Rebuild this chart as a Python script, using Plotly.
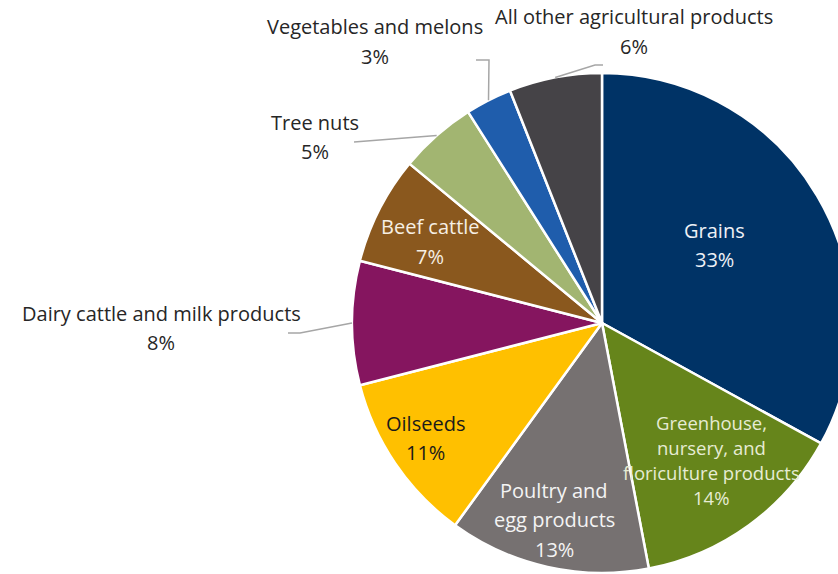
import numpy as np
import plotly.graph_objects as go

# Share of agricultural output by commodity group (percent)
categories = [
    "Grains",
    "Greenhouse, nursery, and floriculture products",
    "Poultry and egg products",
    "Oilseeds",
    "Dairy cattle and milk products",
    "Beef cattle",
    "Tree nuts",
    "Vegetables and melons",
    "All other agricultural products",
]
shares = [33, 14, 13, 11, 8, 7, 5, 3, 6]

# Line breaks used for each label
label_lines = {
    "Grains": ["Grains"],
    "Greenhouse, nursery, and floriculture products": ["Greenhouse,", "nursery, and", "floriculture products"],
    "Poultry and egg products": ["Poultry and", "egg products"],
    "Oilseeds": ["Oilseeds"],
    "Dairy cattle and milk products": ["Dairy cattle and milk products"],
    "Beef cattle": ["Beef cattle"],
    "Tree nuts": ["Tree nuts"],
    "Vegetables and melons": ["Vegetables and melons"],
    "All other agricultural products": ["All other agricultural products"],
}

colors = ["#003366", "#66851b", "#767171", "#ffc000", "#85155f",
          "#8a581e", "#a2b571", "#1f5dac", "#454347"]
text_colors = {
    "Grains": "#eef1f6", "Greenhouse, nursery, and floriculture products": "#e6ecd4",
    "Poultry and egg products": "#f4f4f4", "Oilseeds": "#1a1a1a", "Beef cattle": "#f6efe4",
}

# Canvas geometry (pixels); the pie runs off the right edge of the view
W, H = 870, 574
CX, CY, R = 602, 323, 250
FONT = "Open Sans"
FS = 20
LINE_H = 29.5
# The long greenhouse label is set a little smaller so it fits its slice
small_fs = {"Greenhouse, nursery, and floriculture products": (18.5, 25)}


def paper(x, y):
    return x / W, 1 - y / H


# Label block centres (x, y of first line) and leader routes
inside_pos = {
    "Grains": (714, 230),
    "Greenhouse, nursery, and floriculture products": (711, 422),
    "Poultry and egg products": (554, 490),
    "Oilseeds": (425, 423),
    "Beef cattle": (430, 227),
}
outside_pos = {
    "Dairy cattle and milk products": (161, 313),
    "Tree nuts": (315, 122),
    "Vegetables and melons": (375, 27),
    "All other agricultural products": (634, 17),
}
leader_start = {
    "Dairy cattle and milk products": [(288, 333), (300, 333)],
    "Tree nuts": [(354, 142)],
    "Vegetables and melons": [(476, 60), (489, 60)],
    "All other agricultural products": [(603, 65), (595, 65)],
}

fig = go.Figure()
x0, _ = paper(CX - R, 0)
x1, _ = paper(CX + R, 0)
_, y1 = paper(0, CY - R)
_, y0 = paper(0, CY + R)
fig.add_trace(go.Pie(
    labels=categories,
    values=shares,
    sort=False,
    direction="clockwise",
    rotation=0,
    marker=dict(colors=colors, line=dict(color="white", width=2.5)),
    textinfo="none",
    hoverinfo="label+percent",
    showlegend=False,
    domain=dict(x=[x0, x1], y=[y0, y1]),
))

annotations = []
shapes = []
total = float(sum(shares))
cum = np.cumsum([0] + shares)

for i, cat in enumerate(categories):
    lines = label_lines[cat] + [f"{shares[i]}%"]
    if cat in inside_pos:
        bx, by = inside_pos[cat]
        color = text_colors[cat]
    else:
        bx, by = outside_pos[cat]
        color = "#262626"
    fs, lh = small_fs.get(cat, (FS, LINE_H))
    for k, line in enumerate(lines):
        ax, ay = paper(bx, by + k * lh)
        annotations.append(dict(
            x=ax, y=ay, xref="paper", yref="paper", text=line, showarrow=False,
            xanchor="center", yanchor="middle",
            font=dict(family=FONT, size=fs, color=color),
        ))
    if cat in leader_start:
        mid = (cum[i] + shares[i] / 2) / total * 2 * np.pi
        ex, ey = CX + R * np.sin(mid), CY - R * np.cos(mid)
        pts = leader_start[cat] + [(ex, ey)]
        path = "M " + " L ".join(f"{paper(px, py)[0]:.5f},{paper(px, py)[1]:.5f}" for px, py in pts)
        shapes.append(dict(type="path", path=path, xref="paper", yref="paper",
                           line=dict(color="#a6a6a6", width=1.5)))

fig.update_layout(
    width=W, height=H, autosize=False,
    margin=dict(l=0, r=0, t=0, b=0),
    paper_bgcolor="white", plot_bgcolor="white",
    annotations=annotations, shapes=shapes,
)

fig.write_html("out.html")
